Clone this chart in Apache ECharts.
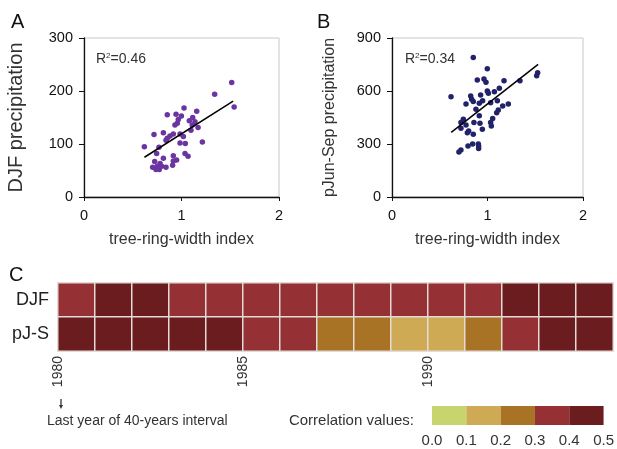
<!DOCTYPE html>
<html style="height: 100%">
<head>
<meta charset="utf-8">
<script src="https://cdn.jsdelivr.net/npm/echarts@6/dist/echarts.min.js"></script>
</head>
<body style="height: 100%; margin: 0; background: #fff">
<div id="container" style="width: 617px; height: 449px"></div>
<script type="text/javascript">
// panel A: DJF precipitation vs tree-ring-width index
var djfX = [1.515,1.34,1.54,1.026,1.156,0.854,0.944,0.999,1.115,0.967,1.08,1.138,0.957,0.933,1.11,1.17,1.097,0.814,0.718,0.916,0.882,0.985,1.019,0.854,0.841,0.985,1.039,1.214,0.619,0.769,0.745,1.036,1.067,0.916,0.814,0.95,0.916,0.725,0.78,0.909,0.704,0.738,0.772,0.841,0.796,0.752];
var djfY = [216,194,170,168,162,155,156,153,150,146,144,142,139,136,136,131,126,121,118,119,115,119,114,111,107,102,101,104,95,94,82,82,77,78,73,70,68,67,63,60,56,52,52,56,58,58];
var djfLine = [[0.62, 75], [1.53, 181]];

// panel B: pJun-Sep precipitation
var pjsX = [0.851,0.998,0.893,0.963,0.984,1.173,1.34,1.525,1.515,0.618,0.824,0.998,1.009,1.072,1.124,0.928,0.834,0.851,0.775,0.914,0.949,1.033,1.103,1.159,1.218,0.879,1.113,1.096,0.914,1.054,0.747,0.722,0.858,0.921,1.033,0.775,1.04,0.722,0.946,0.803,0.789,0.851,0.796,0.844,0.904,0.907,0.722,0.701,0.907];
var pjsY = [790,726,662,668,649,658,658,704,687,568,572,600,587,596,615,577,553,540,526,530,545,534,545,515,526,496,492,477,460,445,440,421,421,417,421,407,402,389,383,373,364,355,289,300,300,275,266,255,289];
var pjsLine = [[0.62, 366], [1.53, 751]];

// panel C: moving correlations
var years = ['1980','1981','1982','1983','1984','1985','1986','1987','1988','1989','1990','1991','1992','1993','1994'];
var rows = ['DJF', 'pJ-S'];
var djfCorr = [0.36,0.44,0.45,0.36,0.35,0.35,0.34,0.35,0.35,0.34,0.35,0.36,0.45,0.44,0.44];
var pjsCorr = [0.44,0.45,0.44,0.44,0.46,0.35,0.34,0.26,0.25,0.16,0.17,0.24,0.33,0.43,0.44];
var binEdges = [0, 0.1, 0.2, 0.3, 0.4, 0.5];
var binColors = ['#c8d56e', '#cfaa55', '#a97325', '#953034', '#6b1c1e'];

var FONT = 'Liberation Sans, Arial, sans-serif';

function pairs(xs, ys) {
    var out = [];
    for (var i = 0; i < xs.length; i++) out.push([xs[i], ys[i]]);
    return out;
}

var heatData = [];
for (var i = 0; i < years.length; i++) {
    heatData.push([i, 0, djfCorr[i]]);
    heatData.push([i, 1, pjsCorr[i]]);
}

var pieces = [];
for (var k = 0; k < binColors.length; k++) {
    pieces.push({gte: binEdges[k], lt: binEdges[k + 1], color: binColors[k]});
}
pieces[pieces.length - 1].lte = 0.5;
delete pieces[pieces.length - 1].lt;

var legendSeries = binColors.map(function (c, k) {
    return {
        type: 'bar', xAxisIndex: 3, yAxisIndex: 3, stack: 'leg',
        barWidth: '100%', silent: true,
        itemStyle: {color: c},
        data: [binEdges[k + 1] - binEdges[k]]
    };
});

function scatterAxisY(grid, max, interval, name, nameSize, nameGap) {
    return {
        gridIndex: grid, type: 'value', min: 0, max: max, interval: interval,
        name: name, nameLocation: 'middle', nameGap: nameGap,
        nameTextStyle: {fontSize: nameSize, color: '#333', fontFamily: FONT},
        axisLine: {show: true, lineStyle: {color: '#111', width: 1.3}},
        axisTick: {show: true, length: 5, lineStyle: {color: '#111'}},
        axisLabel: {fontSize: 14.5, color: '#111', fontFamily: FONT, margin: 11},
        splitLine: {show: false}
    };
}
function scatterAxisX(grid) {
    return {
        gridIndex: grid, type: 'value', min: 0, max: 2, interval: 1,
        name: 'tree-ring-width index', nameLocation: 'middle', nameGap: 35,
        nameTextStyle: {fontSize: 16, color: '#333', fontFamily: FONT},
        axisLine: {show: true, onZero: false, lineStyle: {color: '#111', width: 1.3}},
        axisTick: {show: true, length: 4, lineStyle: {color: '#111'}},
        axisLabel: {fontSize: 14.5, color: '#111', fontFamily: FONT, margin: 11},
        splitLine: {show: false}
    };
}

var dom = document.getElementById('container');
var myChart = echarts.init(dom, null, {renderer: 'canvas'});
var option = {
    animation: false,
    backgroundColor: '#fff',
    textStyle: {fontFamily: FONT},
    grid: [
        {left: 84, right: 338, top: 38, bottom: 252, show: true, borderColor: '#c8c8c8', borderWidth: 1},
        {left: 392, right: 34, top: 38, bottom: 252, show: true, borderColor: '#c8c8c8', borderWidth: 1},
        {left: 58, right: 4, top: 283, height: 68},
        {left: 432, right: 11, top: 406, height: 19}
    ],
    visualMap: {
        type: 'piecewise', show: false, seriesIndex: 4, dimension: 2,
        pieces: pieces
    },
    xAxis: [
        scatterAxisX(0),
        scatterAxisX(1),
        {gridIndex: 2, type: 'category', data: years, show: false},
        {gridIndex: 3, type: 'value', min: 0, max: 0.5, interval: 0.1,
         axisLine: {show: false}, axisTick: {show: false}, splitLine: {show: false},
         axisLabel: {fontSize: 15, color: '#333', margin: 8, fontFamily: FONT,
                     formatter: function (v) { return v.toFixed(1); }}},
        {gridIndex: 2, type: 'value', min: 1980, max: 1995, interval: 5, position: 'bottom',
         axisLine: {show: false}, axisTick: {show: false}, splitLine: {show: false},
         axisLabel: {rotate: 90, fontSize: 14, color: '#333', margin: 5, fontFamily: FONT,
                     formatter: function (v) { return v === 1995 ? '' : String(v); }}}
    ],
    yAxis: [
        scatterAxisY(0, 300, 100, 'DJF precipitation', 20, 58),
        scatterAxisY(1, 900, 300, 'pJun-Sep precipitation', 16, 54),
        {gridIndex: 2, type: 'category', data: rows, inverse: true,
         axisLine: {show: false}, axisTick: {show: false},
         axisLabel: {fontSize: 18, color: '#222', margin: 9, fontFamily: FONT}},
        {gridIndex: 3, type: 'category', data: ['c'], show: false}
    ],
    series: [
        {type: 'scatter', xAxisIndex: 0, yAxisIndex: 0, symbolSize: 5.5,
         itemStyle: {color: '#6a35a0', opacity: 1}, data: pairs(djfX, djfY)},
        {type: 'line', xAxisIndex: 0, yAxisIndex: 0, symbol: 'none',
         lineStyle: {color: '#000', width: 1.5}, data: djfLine},
        {type: 'scatter', xAxisIndex: 1, yAxisIndex: 1, symbolSize: 5.5,
         itemStyle: {color: '#22226a', opacity: 1}, data: pairs(pjsX, pjsY)},
        {type: 'line', xAxisIndex: 1, yAxisIndex: 1, symbol: 'none',
         lineStyle: {color: '#000', width: 1.5}, data: pjsLine},
        {type: 'heatmap', xAxisIndex: 2, yAxisIndex: 2, data: heatData,
         itemStyle: {borderColor: '#e4dad6', borderWidth: 1.5}}
    ].concat(legendSeries),
    graphic: [
        {type: 'text', left: 11, top: 12, style: {text: 'A', fontSize: 20, fill: '#111', font: '20px ' + FONT}},
        {type: 'text', left: 317, top: 12, style: {text: 'B', fontSize: 20, fill: '#111', font: '20px ' + FONT}},
        {type: 'text', left: 9, top: 265, style: {text: 'C', fontSize: 20, fill: '#111', font: '20px ' + FONT}},
        {type: 'text', left: 96, top: 52, style: {
            text: '{a|R}{s|2}{a|=0.46}',
            rich: {a: {fontSize: 14, fill: '#333', fontFamily: FONT}, s: {fontSize: 8, fill: '#333', fontFamily: FONT, padding: [0, 0, 7, 0]}}}},
        {type: 'text', left: 405, top: 52, style: {
            text: '{a|R}{s|2}{a|=0.34}',
            rich: {a: {fontSize: 14, fill: '#333', fontFamily: FONT}, s: {fontSize: 8, fill: '#333', fontFamily: FONT, padding: [0, 0, 7, 0]}}}},
        {type: 'line', shape: {x1: 61, y1: 399, x2: 61, y2: 407}, style: {stroke: '#333', lineWidth: 1.3}},
        {type: 'polygon', shape: {points: [[59, 405], [63, 405], [61, 409]]}, style: {fill: '#333'}},
        {type: 'text', left: 47, top: 414, style: {text: 'Last year of 40-years interval', fontSize: 14, fill: '#333', font: '14px ' + FONT}},
        {type: 'text', right: 203, top: 413, style: {text: 'Correlation values:', fontSize: 15, fill: '#333', font: '15px ' + FONT}}
    ]
};
myChart.setOption(option, true);
</script>
</body>
</html>
